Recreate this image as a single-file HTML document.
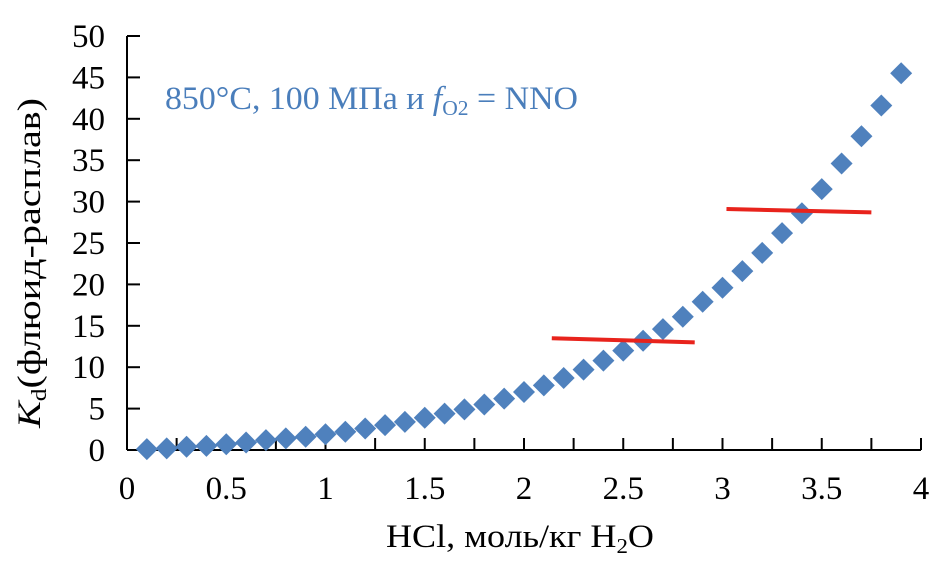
<!DOCTYPE html>
<html><head><meta charset="utf-8"><style>
body{margin:0;background:#fff}
svg text{font-family:"Liberation Serif",serif}
</style></head><body>
<svg id="c" width="940" height="558" xmlns="http://www.w3.org/2000/svg"></svg>
<script>
const xs=[0.1,0.2,0.3,0.4,0.5,0.6,0.7,0.8,0.9,1.0,1.1,1.2,1.3,1.4,1.5,1.6,1.7,1.8,1.9,2.0,2.1,2.2,2.3,2.4,2.5,2.6,2.7,2.8,2.9,3.0,3.1,3.2,3.3,3.4,3.5,3.6,3.7,3.8,3.9];
const ys=[0.1,0.2,0.4,0.5,0.7,0.9,1.2,1.4,1.6,1.9,2.2,2.6,3.0,3.4,3.9,4.4,4.9,5.5,6.2,7.0,7.8,8.7,9.7,10.8,12.0,13.2,14.6,16.1,17.9,19.6,21.6,23.8,26.2,28.6,31.5,34.6,37.9,41.6,45.5];
const lineA=[[2.14,13.5],[2.86,13.0]];
const lineB=[[3.02,29.1],[3.75,28.7]];
const xTicks=[0,0.5,1,1.5,2,2.5,3,3.5,4];
const yTicks=[0,5,10,15,20,25,30,35,40,45,50];
const X=v=>127+v*198.5, Y=v=>450-v*8.28;
const svg=document.getElementById('c'),NS='http://www.w3.org/2000/svg';
function el(t,a,p){const e=document.createElementNS(NS,t);for(const k in a)e.setAttribute(k,a[k]);(p||svg).appendChild(e);return e;}
let e;
e=el('line',{x1:127,y1:Y(50),x2:127,y2:450,stroke:'#000','stroke-width':2});


e=el('line',{x1:127,y1:450,x2:X(4),y2:450,stroke:'#000','stroke-width':2});


yTicks.forEach(v=>{
 e=el('line',{x1:127,y1:Y(v),x2:140,y2:Y(v),stroke:'#000','stroke-width':2});
 
 
 e=el('text',{x:105,y:Y(v)+11,'font-size':33,'text-anchor':'end'});e.textContent=v;
 
 
});
for(let i=1;i<=16;i++){
 e=el('line',{x1:X(i*0.25),y1:450,x2:X(i*0.25),y2:438,stroke:'#000','stroke-width':2});
 
 
}
xTicks.forEach(v=>{
 e=el('text',{x:X(v),y:499,'font-size':33,'text-anchor':'middle'});e.textContent=v;
 
 
});
xs.forEach((x,i)=>{
 const cx=X(x),cy=Y(ys[i]),r=11;
 e=el('polygon',{points:`${cx},${cy-r} ${cx+r},${cy} ${cx},${cy+r} ${cx-r},${cy}`,fill:'#4f81bd'});
 
 
});
[lineA,lineB].forEach(l=>{
 e=el('line',{x1:X(l[0][0]),y1:Y(l[0][1]),x2:X(l[1][0]),y2:Y(l[1][1]),stroke:'#e8231c','stroke-width':4});
 
 
});
e=el('text',{x:165,y:109,'font-size':33,fill:'#4a7ebb',textLength:413,lengthAdjust:'spacingAndGlyphs'});
e.innerHTML='850°C, 100 МПа и <tspan font-style="italic">f</tspan><tspan font-size="21" dy="6">O2</tspan><tspan dy="-6"> = NNO</tspan>';


e=el('text',{x:386,y:547,'font-size':33,textLength:268,lengthAdjust:'spacingAndGlyphs'});
e.innerHTML='HCl, моль/кг H<tspan font-size="21" dy="6">2</tspan><tspan dy="-6">O</tspan>';


e=el('text',{x:-428,y:0,'font-size':33,transform:'translate(40,0) rotate(-90)',textLength:330,lengthAdjust:'spacingAndGlyphs'});
e.innerHTML='<tspan font-style="italic">K</tspan><tspan font-size="21" dy="6">d</tspan><tspan dy="-6">(флюид-расплав)</tspan>';


</script>
</body></html>
